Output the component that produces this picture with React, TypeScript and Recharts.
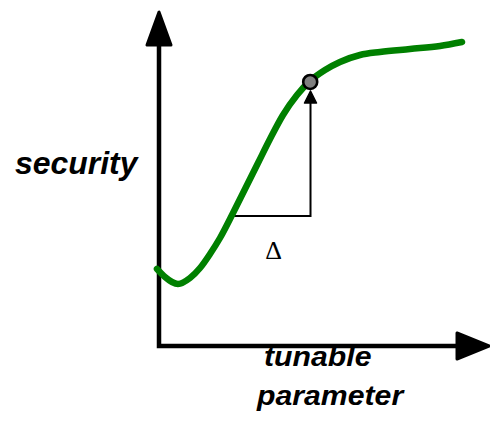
import React from "react";
import { ComposedChart, Line, Scatter, XAxis, YAxis, Customized } from "recharts";

// security curve vs tunable parameter (arbitrary units, axis origin = 0,0)
const curveX = [-0.67, 2, 4.33, 6.33, 10.33, 13.67, 17, 20.33, 24.67, 28.67, 33, 37, 41.33, 46, 50.33, 55.33, 60.33, 67, 73.67, 83.67, 93.67, 101];
const curveY = [25.67, 23, 21.33, 20.67, 22.67, 26, 30.67, 36, 44.33, 52.33, 61, 69, 77, 83.67, 88.33, 92, 94.67, 97, 98, 99, 100, 101.33];
const curveData = curveX.map((x, i) => ({ x, y: curveY[i] }));

// axes (polyline) and arrow tips
const axisX = [0, 0, 99.3];
const axisY = [100, 0, 0];
const axisData = axisX.map((x, i) => ({ x, y: axisY[i] }));
const axisTips = [
  { x: 0, y: 111.3, dir: "up" },
  { x: 110, y: 0, dir: "right" },
];

// highlighted point and delta bracket
const markPoint = [{ x: 50.4, y: 88 }];
const bracketX = [25, 50.5, 50.5];
const bracketY = [43.3, 43.3, 82];
const bracketData = bracketX.map((x, i) => ({ x, y: bracketY[i] }));
const bracketTip = [{ x: 50.5, y: 85, dir: "up" }];

const yLabel = "security";
const xLabel1 = "tunable";
const xLabel2 = "parameter";
const deltaLabel = "Δ";

const W = 490;
const H = 421;

const BigArrow = (props: any) => {
  const { cx, cy, payload } = props;
  if (payload.dir === "up") {
    return (
      <polygon
        points={`${cx},${cy} ${cx - 12},${cy + 33} ${cx + 12},${cy + 33}`}
        fill="#000"
        stroke="#000"
        strokeWidth={3}
        strokeLinejoin="round"
      />
    );
  }
  return (
    <polygon
      points={`${cx},${cy} ${cx - 32},${cy - 13} ${cx - 32},${cy + 13}`}
      fill="#000"
      stroke="#000"
      strokeWidth={3}
      strokeLinejoin="round"
    />
  );
};

const SmallArrow = (props: any) => {
  const { cx, cy } = props;
  return (
    <polygon
      points={`${cx},${cy} ${cx - 6},${cy + 12} ${cx + 6},${cy + 12}`}
      fill="#000"
      stroke="#000"
      strokeWidth={1.5}
      strokeLinejoin="round"
    />
  );
};

const MarkDot = (props: any) => {
  const { cx, cy } = props;
  return <circle cx={cx} cy={cy} r={7} fill="#808080" stroke="#000" strokeWidth={2.6} />;
};

const sansBold = {
  fontFamily: "'Liberation Sans', Arial, sans-serif",
  fontWeight: "bold" as const,
  fontStyle: "italic" as const,
  fill: "#000",
};

const Labels = () => (
  <g>
    <text transform="translate(15,174) scale(1.03,1)" fontSize={31} {...sansBold}>
      {yLabel}
    </text>
    <text transform="translate(264,366) scale(1.12,1)" fontSize={27} {...sansBold}>
      {xLabel1}
    </text>
    <text transform="translate(257,405) scale(1.12,1)" fontSize={27} {...sansBold}>
      {xLabel2}
    </text>
    <text x={273.5} y={259} textAnchor="middle" fontFamily="'Liberation Serif', 'Times New Roman', serif" fontSize={26} fill="#000">
      {deltaLabel}
    </text>
  </g>
);

export default function App() {
  return (
    <div style={{ position: "absolute", left: 0, top: 0, width: W, height: H, background: "#fff" }}>
      <ComposedChart width={W} height={H} margin={{ top: 0, right: 0, bottom: 0, left: 0 }}>
        <XAxis type="number" dataKey="x" domain={[-53, 110.33]} hide allowDataOverflow />
        <YAxis type="number" dataKey="y" domain={[-25, 115.33]} hide allowDataOverflow />
        <Line
          data={axisData}
          dataKey="y"
          type="linear"
          stroke="#000"
          strokeWidth={4.5}
          strokeLinejoin="miter"
          dot={false}
          activeDot={false}
          isAnimationActive={false}
        />
        <Scatter data={axisTips} dataKey="y" shape={BigArrow} isAnimationActive={false} />
        <Line
          data={bracketData}
          dataKey="y"
          type="linear"
          stroke="#000"
          strokeWidth={2}
          dot={false}
          activeDot={false}
          isAnimationActive={false}
        />
        <Scatter data={bracketTip} dataKey="y" shape={SmallArrow} isAnimationActive={false} />
        <Line
          data={curveData}
          dataKey="y"
          type="monotone"
          stroke="#008000"
          strokeWidth={6.5}
          strokeLinecap="round"
          dot={false}
          activeDot={false}
          isAnimationActive={false}
        />
        <Scatter data={markPoint} dataKey="y" shape={MarkDot} isAnimationActive={false} />
        <Customized component={Labels} />
      </ComposedChart>
    </div>
  );
}
